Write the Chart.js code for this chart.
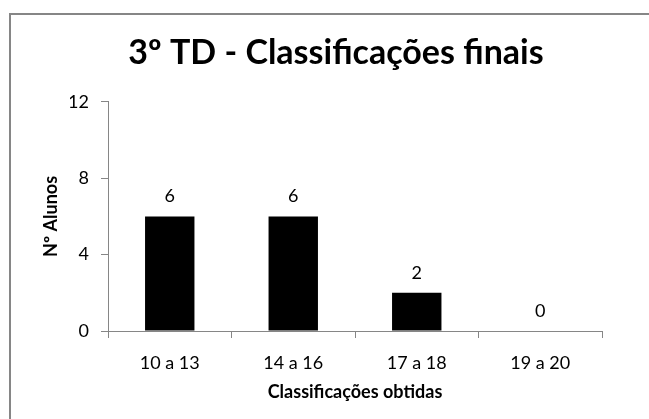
<html lang="pt">
<head>
    <meta charset="UTF-8">
    <title>Classificações finais</title>
    <script src="https://cdn.jsdelivr.net/npm/chart.js"></script>
    <style>
        body {
            margin: 0;
            background: #fff;
            overflow: hidden;
        }
        #frame {
            position: absolute;
            left: 9px;
            top: 13px;
            width: 660px;
            height: 420px;
            border-left: 2px solid #868686;
            border-top: 2px solid #868686;
            pointer-events: none;
        }
        #grafico {
            position: absolute;
            left: 0;
            top: 0;
        }
    </style>
</head>
<body>
    <canvas id="grafico" width="649" height="419"></canvas>
    <div id="frame"></div>

    <script>
        const categorias = ['10 a 13', '14 a 16', '17 a 18', '19 a 20'];
        const alunos = [6, 6, 2, 0];
        const ticksY = [0, 4, 8, 12];

        const fonte = 'Lato, "Open Sans", sans-serif';
        const cinza = '#868686';

        // valores por cima das barras
        const rotulos = {
            id: 'rotulos',
            afterDatasetsDraw(chart) {
                const ctx = chart.ctx;
                const meta = chart.getDatasetMeta(0);
                ctx.save();
                ctx.fillStyle = '#000';
                ctx.font = '18px ' + fonte;
                ctx.textAlign = 'center';
                ctx.textBaseline = 'bottom';
                meta.data.forEach(function(barra, i) {
                    ctx.fillText(String(alunos[i]), barra.x, barra.y - 11);
                });
                ctx.restore();
            }
        };

        const ctx = document.getElementById('grafico').getContext('2d');
        new Chart(ctx, {
            type: 'bar',
            data: {
                labels: categorias,
                datasets: [{
                    data: alunos,
                    backgroundColor: '#000',
                    borderWidth: 0,
                    categoryPercentage: 1,
                    barPercentage: 0.4
                }]
            },
            options: {
                responsive: false,
                animation: false,
                layout: {
                    padding: { left: 70, right: 47, top: 0, bottom: 18 }
                },
                plugins: {
                    legend: { display: false },
                    tooltip: { enabled: false },
                    title: {
                        display: true,
                        text: '3º TD - Classificações finais',
                        color: '#000',
                        font: { family: fonte, size: 34, weight: 'bold', lineHeight: 1.2 },
                        padding: { top: 33, bottom: 28 }
                    }
                },
                scales: {
                    x: {
                        grid: {
                            drawOnChartArea: false,
                            tickLength: 7,
                            color: cinza,
                            offset: true
                        },
                        border: { color: cinza },
                        ticks: {
                            color: '#000',
                            font: { family: fonte, size: 18 },
                            padding: 14
                        },
                        title: {
                            display: true,
                            text: 'Classificações obtidas',
                            color: '#000',
                            font: { family: fonte, size: 18, weight: 'bold' },
                            padding: { top: 0, bottom: -2 }
                        },
                        afterFit(scale) { scale.height = 70; }
                    },
                    y: {
                        min: 0,
                        max: 12,
                        afterBuildTicks(scale) {
                            scale.ticks = ticksY.map(v => ({ value: v }));
                        },
                        grid: {
                            drawOnChartArea: false,
                            tickLength: 7,
                            color: cinza
                        },
                        border: { color: cinza },
                        ticks: {
                            color: '#000',
                            font: { family: fonte, size: 18 },
                            padding: 12
                        },
                        title: {
                            display: true,
                            text: 'Nº Alunos',
                            color: '#000',
                            font: { family: fonte, size: 18, weight: 'bold' },
                            padding: { top: -30, bottom: 0 }
                        },
                        afterFit(scale) { scale.width = 38; }
                    }
                }
            },
            plugins: [rotulos]
        });
    </script>
</body>
</html>
